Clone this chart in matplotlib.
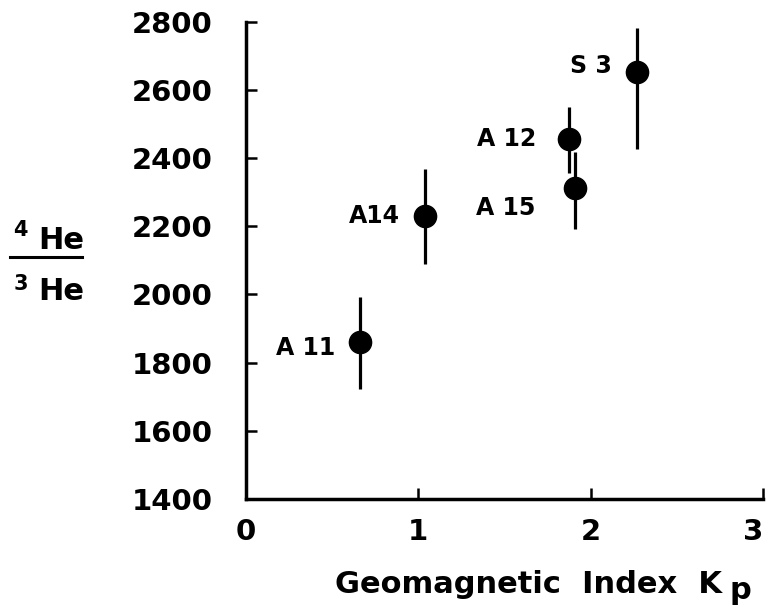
import matplotlib
matplotlib.use("Agg")
import matplotlib.pyplot as plt
import numpy as np

# values
names = ["A 11", "A14", "A 12", "A 15", "S 3"]
kp = np.array([0.66, 1.037, 1.874, 1.908, 2.27])
ratio = np.array([1861, 2230, 2455, 2311, 2653])
ratio_lo = np.array([1723, 2089, 2355, 2191, 2427])
ratio_hi = np.array([1993, 2367, 2549, 2418, 2782])
xticks = [0, 1, 2, 3]
yticks = [1400, 1600, 1800, 2000, 2200, 2400, 2600, 2800]

# label offsets in pixels (right edge / baseline relative to point)
label_off = [(-24, -13), (-25, -7), (-33, -7), (-39, -27), (-25, -1)]

plt.rcParams["font.family"] = ["DejaVu Sans"]
plt.rcParams["font.weight"] = "bold"

W, H = 771, 605
fig = plt.figure(figsize=(W / 100, H / 100), dpi=100)
ax = fig.add_axes([246 / W, 1 - 499 / H, (763 - 246) / W, (499 - 21.7) / H])

ax.errorbar(kp, ratio, yerr=[ratio - ratio_lo, ratio_hi - ratio], fmt="o", color="black",
            ms=16, elinewidth=2.3, capsize=0, zorder=3)
for name, x, y, (dx, dy) in zip(names, kp, ratio, label_off):
    ax.annotate(name, (x, y), xytext=(dx, dy), textcoords="offset pixels",
                ha="right", va="baseline", fontsize=17, fontweight="bold")

ax.set_xlim(0, 3)
ax.set_ylim(1400, 2800)
ax.set_xticks(xticks)
ax.set_yticks(yticks)
ax.set_xticklabels([str(t) for t in xticks], fontsize=21, fontweight="bold")
ax.set_yticklabels([str(t) for t in yticks], fontsize=21, fontweight="bold")
ax.tick_params(axis="both", direction="in", length=8, width=1.8)
ax.tick_params(axis="y", pad=24)
ax.tick_params(axis="x", pad=14)
for side in ["top", "right"]:
    ax.spines[side].set_visible(False)
for side in ["left", "bottom"]:
    ax.spines[side].set_linewidth(2.5)
# the last tick label sits at the figure edge, nudge it in a little
ax.get_xticklabels()[-1].set_horizontalalignment("right")
ax.get_xticklabels()[-1].set_x(3.0)

# x label with subscript p
fig.text(335 / W, 1 - 593 / H, "Geomagnetic  Index  K", fontsize=22, fontweight="bold",
         ha="left", va="baseline")
fig.text(729 / W, 1 - 599 / H, "p", fontsize=22, fontweight="bold", ha="left", va="baseline")

# y label as 4He / 3He fraction
fig.text(38 / W, 1 - 249 / H, "He", fontsize=22, fontweight="bold", ha="left", va="baseline")
fig.text(13 / W, 1 - 236 / H, "4", fontsize=15, fontweight="bold", ha="left", va="baseline")
fig.add_artist(plt.Line2D([10 / W, 82 / W], [1 - 257 / H, 1 - 257 / H], color="black", lw=2.2))
fig.text(14 / W, 1 - 290 / H, "3", fontsize=15, fontweight="bold", ha="left", va="baseline")
fig.text(38 / W, 1 - 300 / H, "He", fontsize=22, fontweight="bold", ha="left", va="baseline")

fig.savefig("out.png", dpi=100)
